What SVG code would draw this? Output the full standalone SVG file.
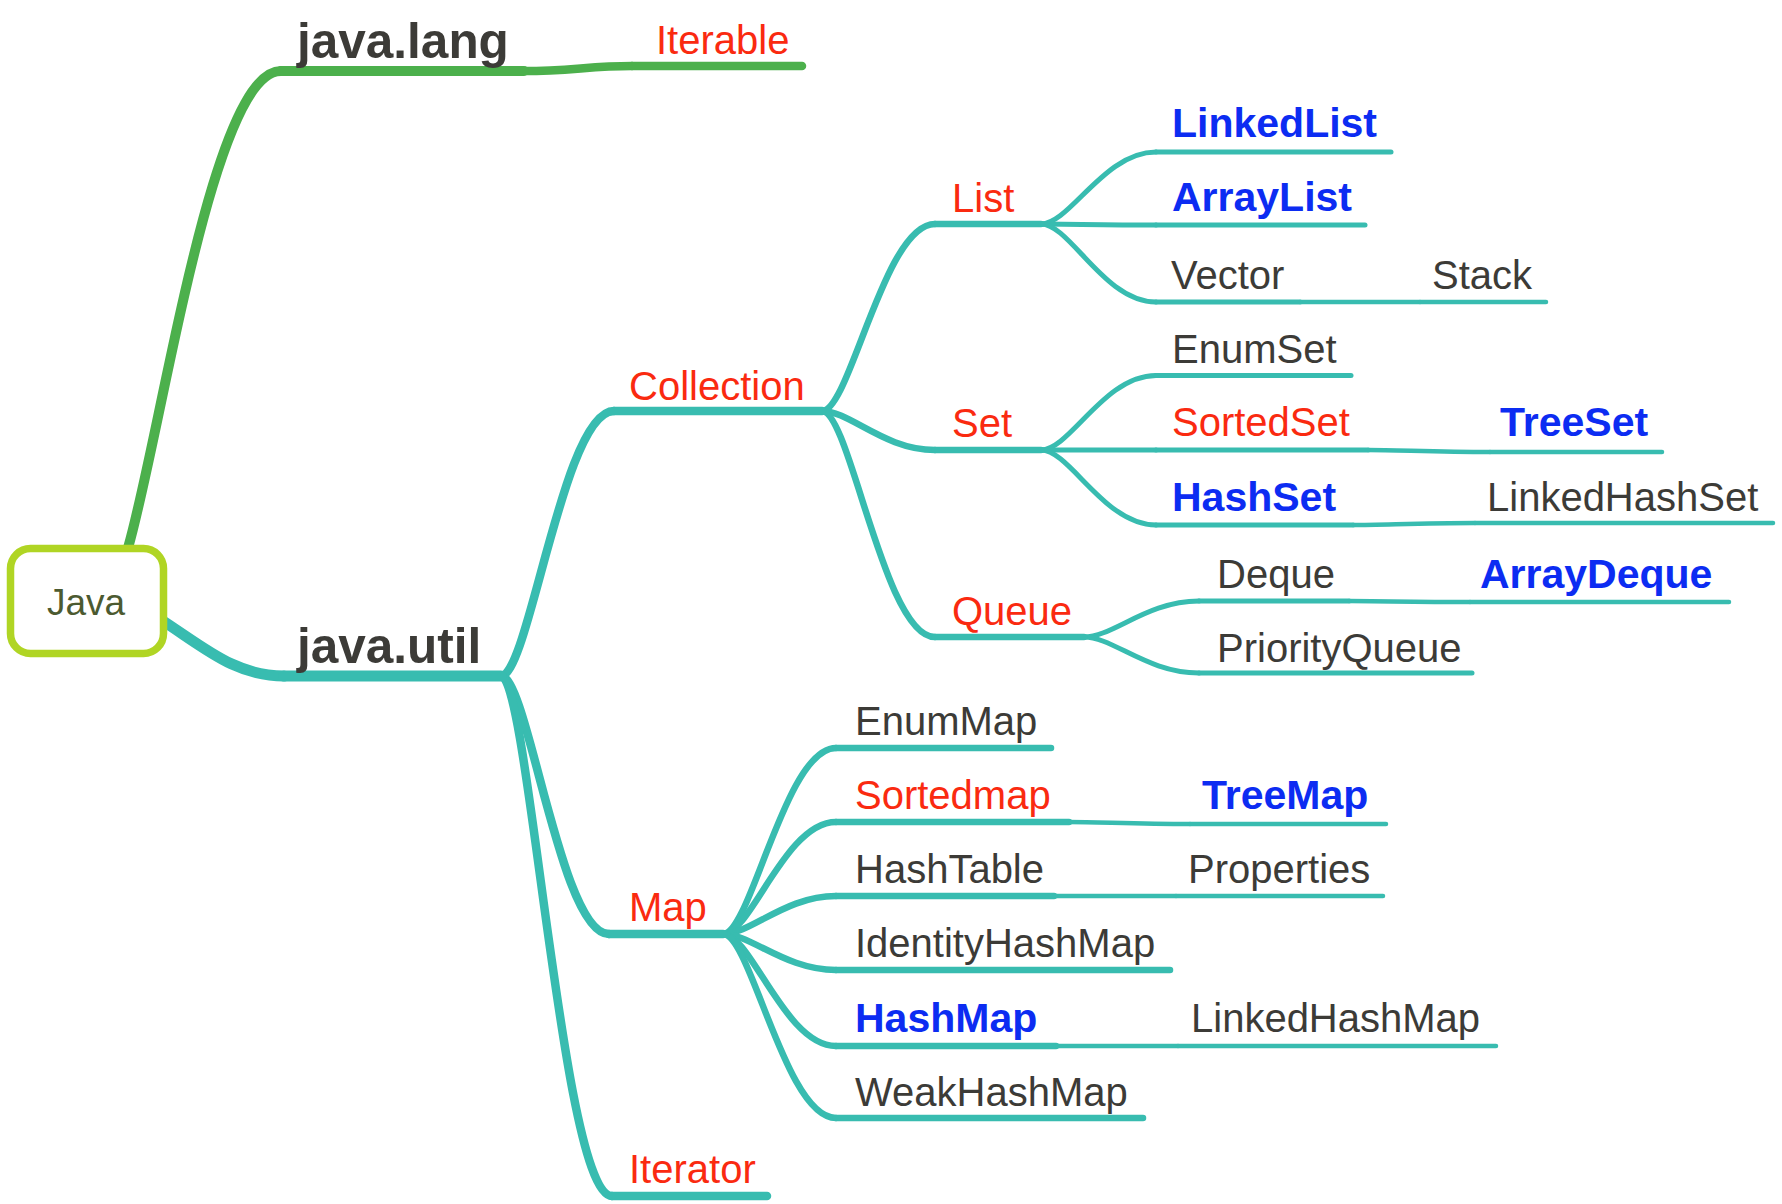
<svg xmlns="http://www.w3.org/2000/svg" width="1782" height="1204" viewBox="0 0 1782 1204">
<style>
.c{fill:none;stroke-linecap:round;stroke-linejoin:round}
.g{stroke:#4cb04c}
.t{stroke:#38bcb0}
.w11{stroke-width:11}.w10{stroke-width:10}.w8{stroke-width:8.5}.w7{stroke-width:8}.w6{stroke-width:6.5}.w5{stroke-width:5}.w4{stroke-width:4.5}
text{font-family:"Liberation Sans",Arial,sans-serif}
.pk{font-size:49.5px;font-weight:bold;fill:#3c3b37}
.r{font-size:40px;fill:#fa2a10}
.n{font-size:40px;fill:#3c3b37}
.b{font-size:41px;font-weight:bold;fill:#0c2cf2}
</style>
<rect width="1782" height="1204" fill="#ffffff"/>
<g id="connectors" class="c">
<path class="g w10" d="M128,548 C162,430 212,71 281,71"/>
<path class="t w11" d="M160,619 C205,648 235,676 284,676"/>
<path class="g w8" d="M524,71 C570,71 590,66 632,66"/>
<path class="t w8" d="M501,676 C529,676 563,411 614,411"/>
<path class="t w8" d="M501,676 C528,676 560,934 609,934"/>
<path class="t w8" d="M501,676 C529,676 562,1196 612,1196"/>
<path class="t w6" d="M822,411 C850,411 884,224 935,224"/>
<path class="t w6" d="M822,411 C850,411 884,450 935,450"/>
<path class="t w6" d="M822,411 C850,411 884,637 935,637"/>
<path class="t w5" d="M1041,224 C1070,224 1104,152 1156,152"/>
<path class="t w5" d="M1041,224 C1070,224 1104,225 1156,225"/>
<path class="t w5" d="M1041,224 C1070,224 1104,302 1156,302"/>
<path class="t w5" d="M1041,450 C1070,450 1104,375.5 1156,375.5"/>
<path class="t w5" d="M1041,450 C1070,450 1104,450 1156,450"/>
<path class="t w5" d="M1041,450 C1070,450 1104,525 1156,525"/>
<path class="t w5" d="M1084,637 C1113,637 1147,601 1199,601"/>
<path class="t w5" d="M1084,637 C1113,637 1147,673 1199,673"/>
<path class="t w6" d="M723,934 C751,934 785,748 836,748"/>
<path class="t w6" d="M723,934 C751,934 785,822 836,822"/>
<path class="t w6" d="M723,934 C751,934 785,896 836,896"/>
<path class="t w6" d="M723,934 C751,934 785,970 836,970"/>
<path class="t w6" d="M723,934 C751,934 785,1046 836,1046"/>
<path class="t w6" d="M723,934 C751,934 785,1118 836,1118"/>
<path class="t w4" d="M1300,302 H1420"/>
<path class="t w4" d="M1368,450 C1398,450 1435,452 1490,452"/>
<path class="t w4" d="M1353,525 C1383,525 1420,523 1475,523"/>
<path class="t w4" d="M1349,601 C1379,601 1415,602 1470,602"/>
<path class="t w4" d="M1069,822 C1099,822 1135,824 1190,824"/>
<path class="t w4" d="M1054,896 H1176"/>
<path class="t w4" d="M1056,1046 H1178"/>
</g>
<g id="java"><rect x="10.5" y="548.5" width="153" height="105" rx="20" fill="#ffffff" stroke="#b0d524" stroke-width="7.5"/><text x="86" y="615" text-anchor="middle" style="font-size:37px;fill:#4c5a30">Java</text></g>
<g id="java-lang" class="c"><line class="g w10" x1="281" y1="71" x2="524" y2="71"/><text class="pk" x="297" y="58">java.lang</text></g>
<g id="iterable" class="c"><line class="g w8" x1="632" y1="66" x2="802" y2="66"/><text class="r" x="656" y="54">Iterable</text></g>
<g id="java-util" class="c"><line class="t w11" x1="284" y1="676" x2="501" y2="676"/><text class="pk" x="297" y="663">java.util</text></g>
<g id="collection" class="c"><line class="t w8" x1="614" y1="411" x2="822" y2="411"/><text class="r" x="629" y="400">Collection</text></g>
<g id="map" class="c"><line class="t w8" x1="609" y1="934" x2="723" y2="934"/><text class="r" x="629" y="921">Map</text></g>
<g id="iterator" class="c"><line class="t w8" x1="612" y1="1196" x2="767" y2="1196"/><text class="r" x="629" y="1183">Iterator</text></g>
<g id="list" class="c"><line class="t w6" x1="935" y1="224" x2="1041" y2="224"/><text class="r" x="952" y="212">List</text></g>
<g id="set" class="c"><line class="t w6" x1="935" y1="450" x2="1041" y2="450"/><text class="r" x="952" y="437">Set</text></g>
<g id="queue" class="c"><line class="t w6" x1="935" y1="637" x2="1084" y2="637"/><text class="r" x="952" y="625">Queue</text></g>
<g id="linkedlist" class="c"><line class="t w5" x1="1156" y1="152" x2="1391" y2="152"/><text class="b" x="1172" y="137">LinkedList</text></g>
<g id="arraylist" class="c"><line class="t w5" x1="1156" y1="225" x2="1365" y2="225"/><text class="b" x="1172" y="211">ArrayList</text></g>
<g id="vector" class="c"><line class="t w5" x1="1156" y1="302" x2="1300" y2="302"/><text class="n" x="1171" y="289">Vector</text></g>
<g id="stack" class="c"><line class="t w4" x1="1420" y1="302" x2="1546" y2="302"/><text class="n" x="1432" y="289">Stack</text></g>
<g id="enumset" class="c"><line class="t w5" x1="1156" y1="375.5" x2="1351" y2="375.5"/><text class="n" x="1172" y="363">EnumSet</text></g>
<g id="sortedset" class="c"><line class="t w5" x1="1156" y1="450" x2="1368" y2="450"/><text class="r" x="1172" y="436">SortedSet</text></g>
<g id="treeset" class="c"><line class="t w4" x1="1490" y1="452" x2="1662" y2="452"/><text class="b" x="1500" y="436">TreeSet</text></g>
<g id="hashset" class="c"><line class="t w5" x1="1156" y1="525" x2="1353" y2="525"/><text class="b" x="1172" y="511">HashSet</text></g>
<g id="linkedhashset" class="c"><line class="t w4" x1="1475" y1="523" x2="1773" y2="523"/><text class="n" x="1487" y="511">LinkedHashSet</text></g>
<g id="deque" class="c"><line class="t w5" x1="1199" y1="601" x2="1349" y2="601"/><text class="n" x="1217" y="588">Deque</text></g>
<g id="arraydeque" class="c"><line class="t w4" x1="1470" y1="602" x2="1729" y2="602"/><text class="b" x="1480" y="588">ArrayDeque</text></g>
<g id="priorityqueue" class="c"><line class="t w5" x1="1199" y1="673" x2="1472" y2="673"/><text class="n" x="1217" y="662">PriorityQueue</text></g>
<g id="enummap" class="c"><line class="t w6" x1="836" y1="748" x2="1051" y2="748"/><text class="n" x="855" y="735">EnumMap</text></g>
<g id="sortedmap" class="c"><line class="t w6" x1="836" y1="822" x2="1069" y2="822"/><text class="r" x="855" y="809">Sortedmap</text></g>
<g id="treemap" class="c"><line class="t w4" x1="1190" y1="824" x2="1386" y2="824"/><text class="b" x="1202" y="809">TreeMap</text></g>
<g id="hashtable" class="c"><line class="t w6" x1="836" y1="896" x2="1054" y2="896"/><text class="n" x="855" y="883">HashTable</text></g>
<g id="properties" class="c"><line class="t w4" x1="1176" y1="896" x2="1383" y2="896"/><text class="n" x="1188" y="883">Properties</text></g>
<g id="identityhashmap" class="c"><line class="t w6" x1="836" y1="970" x2="1170" y2="970"/><text class="n" x="855" y="957">IdentityHashMap</text></g>
<g id="hashmap" class="c"><line class="t w6" x1="836" y1="1046" x2="1056" y2="1046"/><text class="b" x="855" y="1032">HashMap</text></g>
<g id="linkedhashmap" class="c"><line class="t w4" x1="1178" y1="1046" x2="1496" y2="1046"/><text class="n" x="1191" y="1032">LinkedHashMap</text></g>
<g id="weakhashmap" class="c"><line class="t w6" x1="836" y1="1118" x2="1143" y2="1118"/><text class="n" x="855" y="1106">WeakHashMap</text></g>
</svg>
